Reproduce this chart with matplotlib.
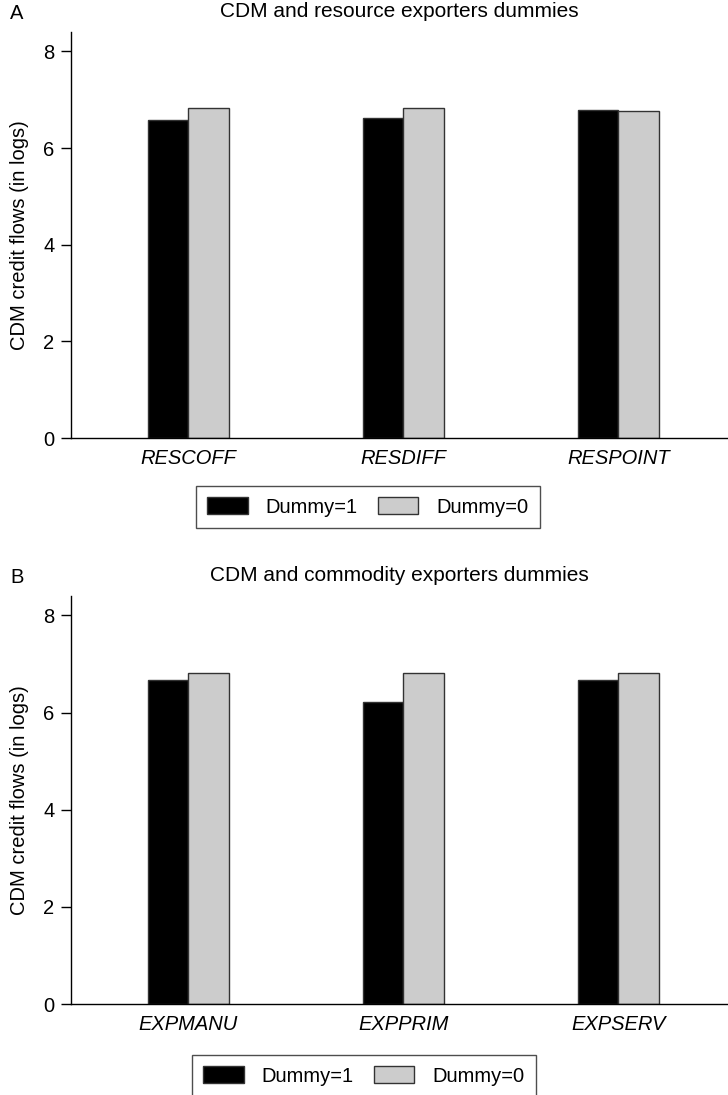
import numpy as np
import matplotlib
matplotlib.use("Agg")
import matplotlib.pyplot as plt
from matplotlib.patches import Patch

# panel A: resource exporters dummies
cats_a = ["RESCOFF", "RESDIFF", "RESPOINT"]
dummy1_a = [6.58, 6.62, 6.78]
dummy0_a = [6.83, 6.82, 6.77]

# panel B: commodity exporters dummies
cats_b = ["EXPMANU", "EXPPRIM", "EXPSERV"]
dummy1_b = [6.67, 6.22, 6.67]
dummy0_b = [6.81, 6.81, 6.81]

titles = ["CDM and resource exporters dummies", "CDM and commodity exporters dummies"]
letters = ["A", "B"]
ylabel = "CDM credit flows (in logs)"

W, H = 728, 1095
fig = plt.figure(figsize=(W / 100, H / 100), dpi=100)
plt.rcParams['font.family'] = ['Liberation Sans', 'DejaVu Sans']

black = "#000000"
gray = "#cccccc"
edge = "#333333"
bw = 0.188
fs = 14.5


def panel(rect, cats, d1, d0, title, letter, leg_xy):
    ax = fig.add_axes(rect)
    x = np.arange(1, len(cats) + 1)
    ax.bar(x - bw / 2, d1, bw, color=black, edgecolor=edge, linewidth=1)
    ax.bar(x + bw / 2, d0, bw, color=gray, edgecolor=edge, linewidth=1)
    ax.set_xlim(0.454, 3.51)
    ax.set_ylim(0, 8.4)
    ax.set_yticks([0, 2, 4, 6, 8])
    ax.set_xticks(x)
    ax.set_xticklabels(cats, fontstyle="italic", fontsize=fs)
    ax.tick_params(axis="x", length=0, pad=8)
    ax.tick_params(axis="y", labelsize=fs, length=7, width=1, pad=5)
    for s in ["top", "right"]:
        ax.spines[s].set_visible(False)
    for s in ["left", "bottom"]:
        ax.spines[s].set_linewidth(1)
    ax.set_ylabel(ylabel, fontsize=fs, labelpad=10)
    ax.set_title(title, fontsize=15, pad=11)
    bbox = ax.get_position()
    fig.text(10 / W, bbox.y1 + 0.008, letter, fontsize=fs, va="bottom")
    handles = [Patch(facecolor=black, edgecolor=edge, label="Dummy=1"),
               Patch(facecolor=gray, edgecolor=edge, label="Dummy=0")]
    leg = fig.legend(handles=handles, loc="center", ncol=2,
                     bbox_to_anchor=leg_xy, fontsize=fs, frameon=True,
                     fancybox=False, edgecolor="#222222", handlelength=2.0,
                     handleheight=0.9, columnspacing=1.0, handletextpad=0.9,
                     borderpad=0.55, borderaxespad=0)
    leg.get_frame().set_linewidth(1)
    return ax


panel([71 / W, 1 - 438 / H, 1 - 71 / W, (438 - 32) / H], cats_a, dummy1_a,
      dummy0_a, titles[0], letters[0], (368 / W, 1 - 507 / H))
panel([71 / W, 1 - 1004 / H, 1 - 71 / W, (1004 - 596) / H], cats_b, dummy1_b,
      dummy0_b, titles[1], letters[1], (364 / W, 1 - 1076 / H))

fig.savefig("out.png", dpi=100)
